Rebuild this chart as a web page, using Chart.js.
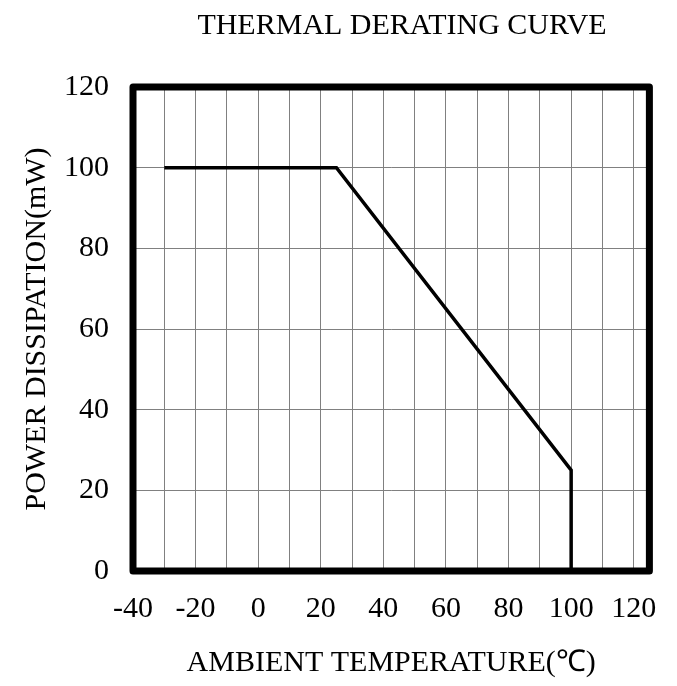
<!DOCTYPE html>
<html lang="en">
<head>
  <meta charset="UTF-8">
  <title>Thermal Derating Curve</title>
  <script src="https://cdn.jsdelivr.net/npm/chart.js"></script>
  <style>
    html, body { margin: 0; padding: 0; background: #fff; }
    #wrap { width: 677px; height: 686px; }
  </style>
</head>
<body>
  <div id="wrap"><canvas id="derating" width="677" height="686"></canvas></div>

  <script>
    // curve points
    const curveTemp = [-30, 25, 100, 100];
    const curvePower = [100, 100, 25, 0];

    // axes
    const xGridValues = [-40, -30, -20, -10, 0, 10, 20, 30, 40, 50, 60, 70, 80, 90, 100, 110, 120];
    const xLabelValues = [-40, -20, 0, 20, 40, 60, 80, 100, 120];
    const yTickValues = [0, 20, 40, 60, 80, 100, 120];

    const chartTitle = 'THERMAL DERATING CURVE';
    const xTitle = 'AMBIENT TEMPERATURE(℃)';
    const yTitle = 'POWER DISSIPATION(mW)';

    const serif = "'Liberation Serif', 'Times New Roman', serif";

    // thick frame round the plot + the title on top
    const framePlugin = {
      id: 'frame',
      afterDraw(chart) {
        const { ctx, chartArea: a } = chart;
        ctx.save();
        ctx.strokeStyle = '#000';
        ctx.lineWidth = 7;
        ctx.lineJoin = 'round';
        ctx.strokeRect(a.left, a.top, a.right - a.left, a.bottom - a.top);

        ctx.fillStyle = '#000';
        ctx.font = '30px ' + serif;
        ctx.textAlign = 'center';
        ctx.textBaseline = 'alphabetic';
        ctx.fillText(chartTitle, 402, 34);
        ctx.restore();
      }
    };

    new Chart(document.getElementById('derating').getContext('2d'), {
      type: 'line',
      data: {
        datasets: [{
          data: curveTemp.map((t, i) => ({ x: t, y: curvePower[i] })),
          borderColor: '#000',
          borderWidth: 3.5,
          pointRadius: 0,
          tension: 0,
          fill: false
        }]
      },
      options: {
        responsive: false,
        animation: false,
        devicePixelRatio: 1,
        layout: { padding: { left: 0, right: 25, top: 87, bottom: 0 } },
        plugins: { legend: { display: false }, tooltip: { enabled: false }, title: { display: false } },
        scales: {
          x: {
            type: 'linear',
            min: -40,
            max: 125,
            afterBuildTicks: s => { s.ticks = xGridValues.map(v => ({ value: v })); },
            afterFit: s => { s.height = 115; },
            grid: { color: '#808080', lineWidth: 1, drawTicks: false },
            border: { display: false },
            ticks: {
              padding: 20,
              color: '#000',
              font: { family: serif, size: 30 },
              maxRotation: 0,
              autoSkip: false,
              callback: v => xLabelValues.includes(v) ? String(v) : ''
            },
            title: {
              display: true,
              text: xTitle,
              color: '#000',
              font: { family: serif, size: 30 },
              padding: { top: 6, bottom: 5 }
            }
          },
          y: {
            type: 'linear',
            min: 0,
            max: 120,
            afterBuildTicks: s => { s.ticks = yTickValues.map(v => ({ value: v })); },
            afterFit: s => { s.width = 133; },
            grid: { color: '#808080', lineWidth: 1, drawTicks: false },
            border: { display: false },
            ticks: {
              padding: 24,
              color: '#000',
              font: { family: serif, size: 30 }
            },
            title: {
              display: true,
              text: yTitle,
              color: '#000',
              font: { family: serif, size: 30 },
              padding: { top: 19, bottom: 6 }
            }
          }
        }
      },
      plugins: [framePlugin]
    });
  </script>
</body>
</html>
